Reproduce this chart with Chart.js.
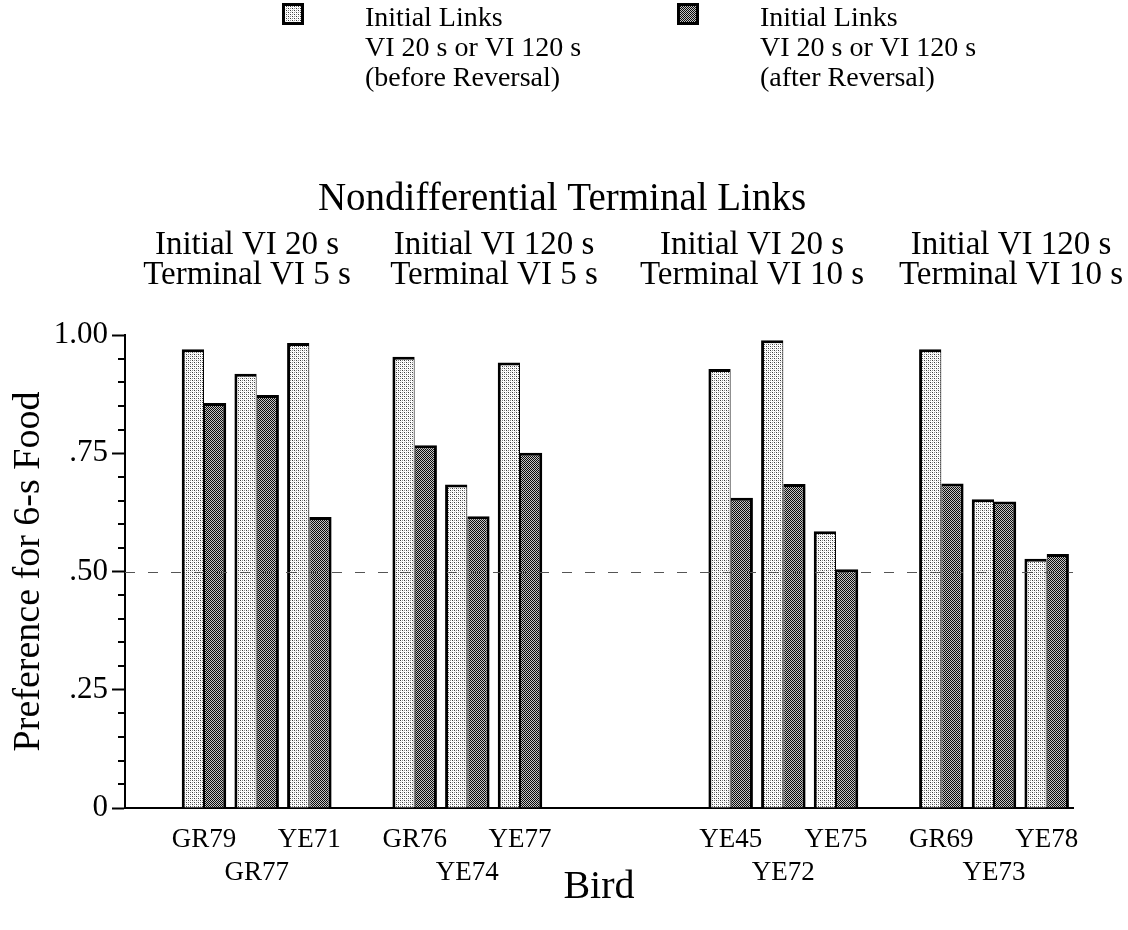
<!DOCTYPE html>
<html>
<head>
<meta charset="utf-8">
<script src="https://cdn.jsdelivr.net/npm/chart.js@4.4.1/dist/chart.umd.min.js"></script>
<style>
html,body{margin:0;padding:0;background:#fff;}
#wrap{width:1128px;height:930px;position:relative;}
canvas{display:block;}
</style>
</head>
<body>
<div id="wrap"><canvas id="c" width="1128" height="930"></canvas></div>
<script>
// ---------- data ----------
const birds = ['GR79','GR77','YE71','GR76','YE74','YE77','YE45','YE72','YE75','GR69','YE73','YE78'];
const beforeReversal = [0.970, 0.918, 0.983, 0.954, 0.684, 0.942, 0.928, 0.989, 0.585, 0.970, 0.653, 0.527];
const afterReversal  = [0.856, 0.873, 0.615, 0.767, 0.617, 0.751, 0.656, 0.685, 0.505, 0.686, 0.648, 0.537];
const groupSizes = [3, 3, 3, 3];
const spacersBefore = [1, 1, 3, 1];
const labelRow = [0,1,0, 0,1,0, 0,1,0, 0,1,0];
const yTickValues = [0, 0.25, 0.5, 0.75, 1.0];
const yTickLabels = ['0', '.25', '.50', '.75', '1.00'];
const referenceLevel = 0.5;
const groupHeaders = [
  ['Initial VI 20 s', 'Terminal VI 5 s'],
  ['Initial VI 120 s', 'Terminal VI 5 s'],
  ['Initial VI 20 s', 'Terminal VI 10 s'],
  ['Initial VI 120 s', 'Terminal VI 10 s']
];
const legendLabels = [
  ['Initial Links', 'VI 20 s or VI 120 s', '(before Reversal)'],
  ['Initial Links', 'VI 20 s or VI 120 s', '(after Reversal)']
];
const mainTitle = 'Nondifferential Terminal Links';
const yTitle = 'Preference for 6-s Food';
const xTitle = 'Bird';

// ---------- build category table ----------
const categories = [], seriesBefore = [], seriesAfter = [];
let bi = 0;
groupSizes.forEach((n, g) => {
  for (let i = 0; i < spacersBefore[g]; i++) { categories.push(['', '']); seriesBefore.push(null); seriesAfter.push(null); }
  for (let i = 0; i < n; i++) {
    categories.push(labelRow[bi] ? ['', birds[bi]] : [birds[bi], '']);
    seriesBefore.push(beforeReversal[bi]);
    seriesAfter.push(afterReversal[bi]);
    bi++;
  }
});

const SERIF = '"Liberation Serif", "Times New Roman", Times, serif';
const canvas = document.getElementById('c');
const ctx = canvas.getContext('2d');

function makePattern(kind) {
  const t = document.createElement('canvas');
  t.width = 4; t.height = 4;
  const x = t.getContext('2d');
  x.fillStyle = '#ffffff'; x.fillRect(0, 0, 4, 4);
  if (kind === 'light') {
    x.fillStyle = '#3a3a3a'; x.fillRect(0, 0, 1, 1); x.fillRect(2, 2, 1, 1);
    x.fillStyle = '#8a8a8a'; x.fillRect(2, 0, 1, 1); x.fillRect(0, 2, 1, 1);
    x.fillStyle = '#e4e4e4'; x.fillRect(1, 1, 1, 1); x.fillRect(3, 3, 1, 1);
  } else {
    for (let i = 0; i < 4; i++) for (let j = 0; j < 4; j++) {
      x.fillStyle = ((i + j) % 2 === 0) ? '#0a0a0a' : '#c4c4c4';
      x.fillRect(i, j, 1, 1);
    }
  }
  return ctx.createPattern(t, 'repeat');
}
const lightFill = makePattern('light');
const darkFill = makePattern('dark');

const isMajor = v => yTickValues.some(t => Math.abs(t - v) < 1e-6);

const deco = {
  id: 'deco',
  beforeDraw(chart) {
    const c = chart.ctx;
    c.save(); c.fillStyle = '#fff'; c.fillRect(0, 0, chart.width, chart.height); c.restore();
  },
  afterDatasetsDraw(chart) {
    const c = chart.ctx, y = chart.scales.y, a = chart.chartArea;
    const py = Math.round(y.getPixelForValue(referenceLevel)) + 0.5;
    c.save();
    c.strokeStyle = '#555'; c.lineWidth = 1; c.setLineDash([10, 13]);
    c.beginPath(); c.moveTo(a.left, py); c.lineTo(a.right, py); c.stroke();
    c.restore();
  },
  afterDraw(chart) {
    const c = chart.ctx, y = chart.scales.y, a = chart.chartArea;
    c.save();
    // minor ticks
    c.strokeStyle = '#000'; c.lineWidth = 2;
    y.ticks.forEach(t => {
      if (isMajor(t.value)) return;
      const py = Math.round(y.getPixelForValue(t.value));
      c.beginPath(); c.moveTo(a.left - 7, py); c.lineTo(a.left, py); c.stroke();
    });
    // legend
    const boxes = [[282, 3, lightFill, 365], [677, 3, darkFill, 760]];
    boxes.forEach((b, k) => {
      c.fillStyle = b[2]; c.fillRect(b[0], b[1], 22, 22);
      c.strokeStyle = '#000'; c.lineWidth = 3; c.strokeRect(b[0] + 1.5, b[1] + 1.5, 19, 19);
      c.fillStyle = '#000'; c.font = '28px ' + SERIF; c.textAlign = 'left'; c.textBaseline = 'alphabetic';
      legendLabels[k].forEach((s, i) => c.fillText(s, b[3], 26 + i * 30));
    });
    // main title
    c.font = '39px ' + SERIF; c.textAlign = 'center'; c.fillStyle = '#000';
    c.fillText(mainTitle, 562, 210);
    // group headers
    const hx = [247, 494, 752, 1011];
    c.font = '33px ' + SERIF;
    groupHeaders.forEach((h, g) => {
      c.fillText(h[0], hx[g], 254);
      c.fillText(h[1], hx[g], 284);
    });
    c.restore();
  }
};

new Chart(canvas, {
  type: 'bar',
  data: {
    labels: categories,
    datasets: [
      { label: 'before Reversal', data: seriesBefore, backgroundColor: lightFill, borderColor: '#000',
        borderWidth: {top: 3, left: 3, right: 1, bottom: 0}, borderSkipped: false },
      { label: 'after Reversal', data: seriesAfter, backgroundColor: darkFill, borderColor: '#000',
        borderWidth: {top: 3, left: 1, right: 3, bottom: 0}, borderSkipped: false }
    ]
  },
  options: {
    responsive: false,
    animation: false,
    devicePixelRatio: 1,
    categoryPercentage: 0.845,
    barPercentage: 1.0,
    layout: { padding: { left: 0, top: 335, right: 55, bottom: 0 } },
    plugins: { legend: { display: false }, title: { display: false }, tooltip: { enabled: false } },
    scales: {
      x: {
        type: 'category',
        offset: true,
        grid: { display: false, drawTicks: false },
        border: { display: true, color: '#000', width: 2 },
        ticks: { autoSkip: false, maxRotation: 0, minRotation: 0, color: '#000', padding: 16,
                 font: { family: SERIF, size: 27, lineHeight: 1.2 } },
        title: { display: true, text: xTitle, color: '#000', font: { family: SERIF, size: 40, lineHeight: 1.2 },
                 padding: { top: 0, bottom: 19 } },
        afterFit(s) { s.height = 122; }
      },
      y: {
        min: 0, max: 1,
        grid: { drawOnChartArea: false, drawTicks: true, tickLength: 13, tickWidth: 2,
                tickColor: c => (c.tick && isMajor(c.tick.value)) ? '#000' : 'rgba(0,0,0,0)' },
        border: { display: true, color: '#000', width: 2 },
        ticks: { stepSize: 0.05, autoSkip: false, color: '#000', padding: 4,
                 font: { family: SERIF, size: 31 },
                 callback: v => { const i = yTickValues.findIndex(t => Math.abs(t - v) < 1e-6); return i >= 0 ? yTickLabels[i] : ''; } },
        title: { display: true, text: yTitle, color: '#000', font: { family: SERIF, size: 38, lineHeight: 1.2 },
                 padding: { top: 6, bottom: 0 } },
        afterFit(s) { s.width = 125; }
      }
    }
  },
  plugins: [deco]
});
</script>
</body>
</html>
